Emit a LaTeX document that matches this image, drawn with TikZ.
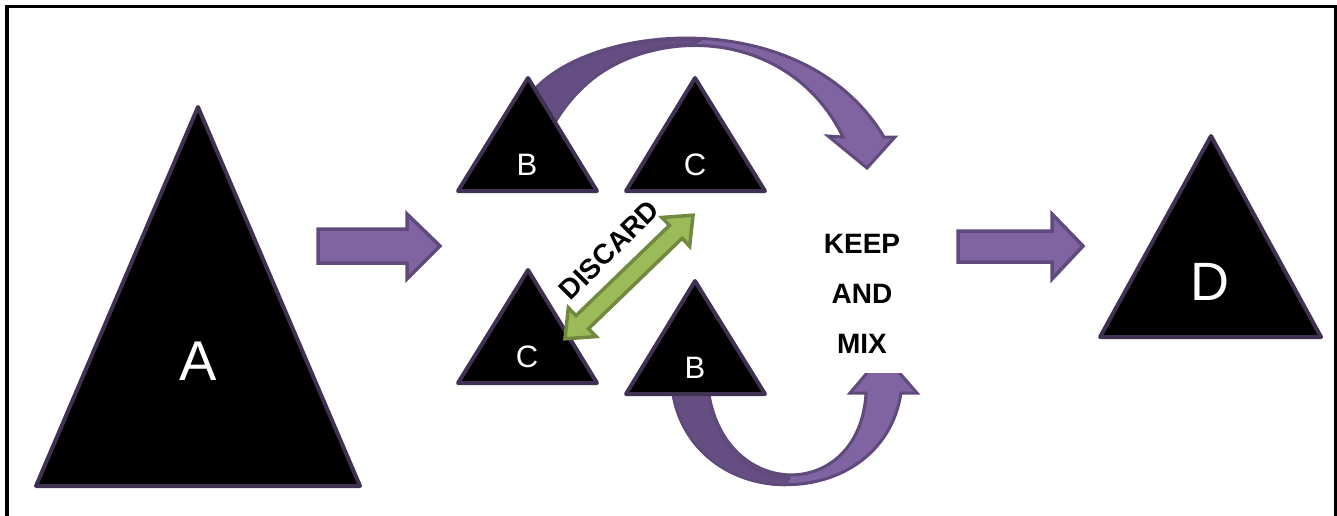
\documentclass[tikz,border=0pt]{standalone}
\usepackage{fontspec}
\setmainfont{Liberation Sans}
\definecolor{triline}{HTML}{3F3151}
\definecolor{arrowfill}{HTML}{8064A2}
\definecolor{arrowdark}{HTML}{654F82}
\definecolor{arrowline}{HTML}{5F4A7B}
\definecolor{greenfill}{HTML}{9BBB59}
\definecolor{greenline}{HTML}{71893F}
\begin{document}
\begin{tikzpicture}[x=1pt,y=-1pt,
  tri/.style={fill=black, draw=triline, line width=4pt, line join=round},
  blockarrow/.style={fill=arrowfill, draw=arrowline, line width=3.5pt, line join=miter},
  bandback/.style={fill=arrowdark, draw=arrowline, line width=2.5pt, line join=round},
  bandfront/.style={fill=arrowfill, draw=arrowline, line width=3pt, line join=miter},
  greenarrow/.style={fill=greenfill, draw=greenline, line width=3.5pt, line join=miter},
  lbl/.style={text=white, inner sep=0pt},
  bold/.style={font=\fontsize{28}{50}\selectfont\bfseries, text=black}
]
\useasboundingbox (0,0) rectangle (1337,515);
\clip (0,0) rectangle (1337,515);
% frame
\draw[line width=3.5pt] (7,6.5) rectangle (1335.5,540);

% straight block arrows
\draw[blockarrow] (318,229) -- (407,229) -- (407,214) -- (440,246) -- (407,279) -- (407,263) -- (318,263) -- cycle;
\draw[blockarrow] (958,231) -- (1052,231) -- (1052,214) -- (1083,246) -- (1052,279) -- (1052,262) -- (958,262) -- cycle;

% top curved arrow
\draw[bandfront] (534,90) .. controls (595,22) and (805,5) .. (884,137) -- (895,137) -- (867,168) -- (828,136) -- (843,137) .. controls (780,8) and (600,25) .. (552,128) -- cycle;
\draw[bandback] (534,90) .. controls (566.5,56.5) and (632,36.25) .. (700.6,40.1) -- (693.1,44) .. controls (635,44.5) and (582,73.5) .. (552,128) -- cycle;

% bottom curved arrow
\draw[bandfront] (672,388) .. controls (688,516) and (882,516) .. (901,393) -- (917,393) -- (883,354) -- (850,393) -- (866,393) .. controls (860,503) and (722,503) .. (708,388) -- cycle;
\draw[bandback] (672,388) .. controls (681,453) and (733,485) .. (785.25,485) -- (789.25,477) .. controls (751.75,477) and (714,449.5) .. (708,388) -- cycle;

% triangles
\draw[tri] (198,107) -- (36,486) -- (360,486) -- cycle;
\draw[tri] (528,78) -- (458,191) -- (597,191) -- cycle;
\draw[tri] (695,78) -- (626,191) -- (765,191) -- cycle;
\draw[tri] (528,270) -- (458,383) -- (597,383) -- cycle;
\draw[tri] (695,281) -- (626,394) -- (765,394) -- cycle;
\draw[tri] (1211,136) -- (1100,337) -- (1321,337) -- cycle;

% labels
\node[lbl, font=\fontsize{56}{60}\selectfont] (labA) at (198,361) {A};
\node[lbl, font=\fontsize{31}{34}\selectfont] (labB1) at (527,165) {B};
\node[lbl, font=\fontsize{31}{34}\selectfont] (labC1) at (695,165) {C};
\node[lbl, font=\fontsize{31}{34}\selectfont] (labC2) at (527,357) {C};
\node[lbl, font=\fontsize{31}{34}\selectfont] (labB2) at (695,368) {B};
\node[lbl, font=\fontsize{54}{60}\selectfont] (labD) at (1210,282) {D};

% green double arrow
\begin{scope}[shift={(629,277)}, rotate=44]
\draw[greenarrow] (-89,0) -- (-65,-20) -- (-65,-9) -- (65,-9) -- (65,-20) -- (89,0) -- (65,20) -- (65,9) -- (-65,9) -- (-65,20) -- cycle;
\end{scope}
\node[bold, rotate=45, inner sep=0pt] (discard) at (609,250) {DISCARD};

% keep and mix
\node[bold, fill=white, align=center, minimum width=125pt, minimum height=158pt, inner sep=0pt] (keep) at (862,294) {KEEP\\AND\\MIX};
\end{tikzpicture}
\end{document}
